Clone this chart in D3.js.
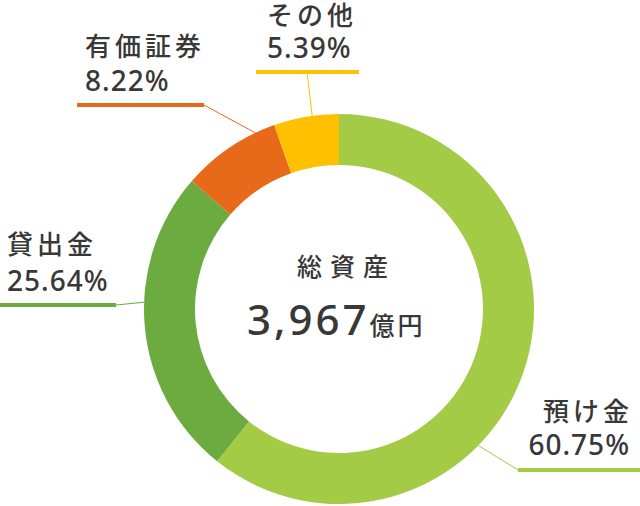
<!DOCTYPE html>
<html>
<head>
<meta charset="utf-8">
<script src="https://cdn.jsdelivr.net/npm/d3@7"></script>
<style>
  html, body { margin: 0; padding: 0; background: #fff; }
  svg { display: block; font-family: 'Noto Sans CJK JP', 'Noto Sans', sans-serif; }
</style>
</head>
<body>
<div id="chart"></div>
<script>
// 総資産の内訳 (%)
const categories = ['預け金', '貸出金', '有価証券', 'その他'];
const shares = [60.75, 25.64, 8.22, 5.39];
const colors = ['#a3cb45', '#6cab3f', '#e8691a', '#fec000'];
const centerTitle = '総資産';
const totalValue = '3,967';
const totalUnit = '億円';

const width = 640;
const height = 506;
const cx = 339;
const cy = 309;
const outerR = 195;
const innerR = 144;
const textColor = '#383838';

// label placement, one per category
const labelLayout = [
  { anchor: 'end', x: 629, nameY: 421, pctY: 455, lineY: 470, x1: 518, x2: 640, hook: 518, angle: 134.4 },
  { anchor: 'start', x: 7, nameY: 254, pctY: 291, lineY: 305, x1: 0, x2: 116, hook: 116, angle: 272 },
  { anchor: 'start', x: 85, nameY: 56, pctY: 91, lineY: 105, x1: 77, x2: 204, hook: 204, angle: 334.6 },
  { anchor: 'start', x: 267, nameY: 25, pctY: 58, lineY: 72, x1: 256, x2: 359, hook: 307, angle: 352.1 },
];

const svg = d3.select('#chart').append('svg').attr('width', width).attr('height', height);

const data = categories.map((c, i) => ({ name: c, value: shares[i], color: colors[i] }));

const pie = d3.pie().sort(null).value((d) => d.value);
const arc = d3.arc().innerRadius(innerR).outerRadius(outerR);

const ring = svg.append('g').attr('transform', `translate(${cx}, ${cy})`);
ring
  .selectAll('path')
  .data(pie(data))
  .join('path')
  .attr('d', arc)
  .attr('fill', (d) => d.data.color);

// labels with underline and leader line
const labels = svg.selectAll('g.label').data(data).join('g').attr('class', 'label');

labels.each(function (d, i) {
  const g = d3.select(this);
  const L = labelLayout[i];
  const a = (L.angle * Math.PI) / 180;
  const ex = cx + outerR * Math.sin(a);
  const ey = cy - outerR * Math.cos(a);

  g.append('line')
    .attr('x1', L.hook)
    .attr('y1', L.lineY)
    .attr('x2', ex)
    .attr('y2', ey)
    .attr('stroke', d.color)
    .attr('stroke-width', 1);

  g.append('line')
    .attr('x1', L.x1)
    .attr('x2', L.x2)
    .attr('y1', L.lineY)
    .attr('y2', L.lineY)
    .attr('stroke', d.color)
    .attr('stroke-width', 4);

  // two-line label: name, then percentage
  // trailing letter-spacing would shift end-anchored text, so nudge those back
  const label = g.append('text').attr('text-anchor', L.anchor).attr('fill', textColor).style('font-weight', 500);

  label
    .append('tspan')
    .attr('x', L.x)
    .attr('y', L.nameY)
    .attr('dx', L.anchor === 'end' ? 4 : 0)
    .style('font-size', '26px')
    .style('letter-spacing', '4px')
    .text(d.name);

  label
    .append('tspan')
    .attr('x', L.x)
    .attr('y', L.pctY)
    .attr('dx', L.anchor === 'end' ? 1 : 0)
    .style('font-size', '28px')
    .style('letter-spacing', '1px')
    .style('font-family', "'Noto Sans', sans-serif")
    .text(d3.format('.2f')(d.value) + '%');
});

// centre text
svg
  .append('text')
  .attr('x', 297)
  .attr('y', 276)
  .attr('fill', textColor)
  .style('font-size', '25px')
  .style('font-weight', 500)
  .style('letter-spacing', '8px')
  .text(centerTitle);

const total = svg.append('text').attr('x', 247).attr('y', 335).attr('fill', textColor);
total
  .append('tspan')
  .style('font-size', '42px')
  .style('font-weight', 500)
  .style('letter-spacing', '3px')
  .style('font-family', "'Noto Sans', sans-serif")
  .text(totalValue);
total
  .append('tspan')
  .style('font-size', '25px')
  .style('font-weight', 500)
  .style('letter-spacing', '3px')
  .text(totalUnit);
</script>
</body>
</html>
